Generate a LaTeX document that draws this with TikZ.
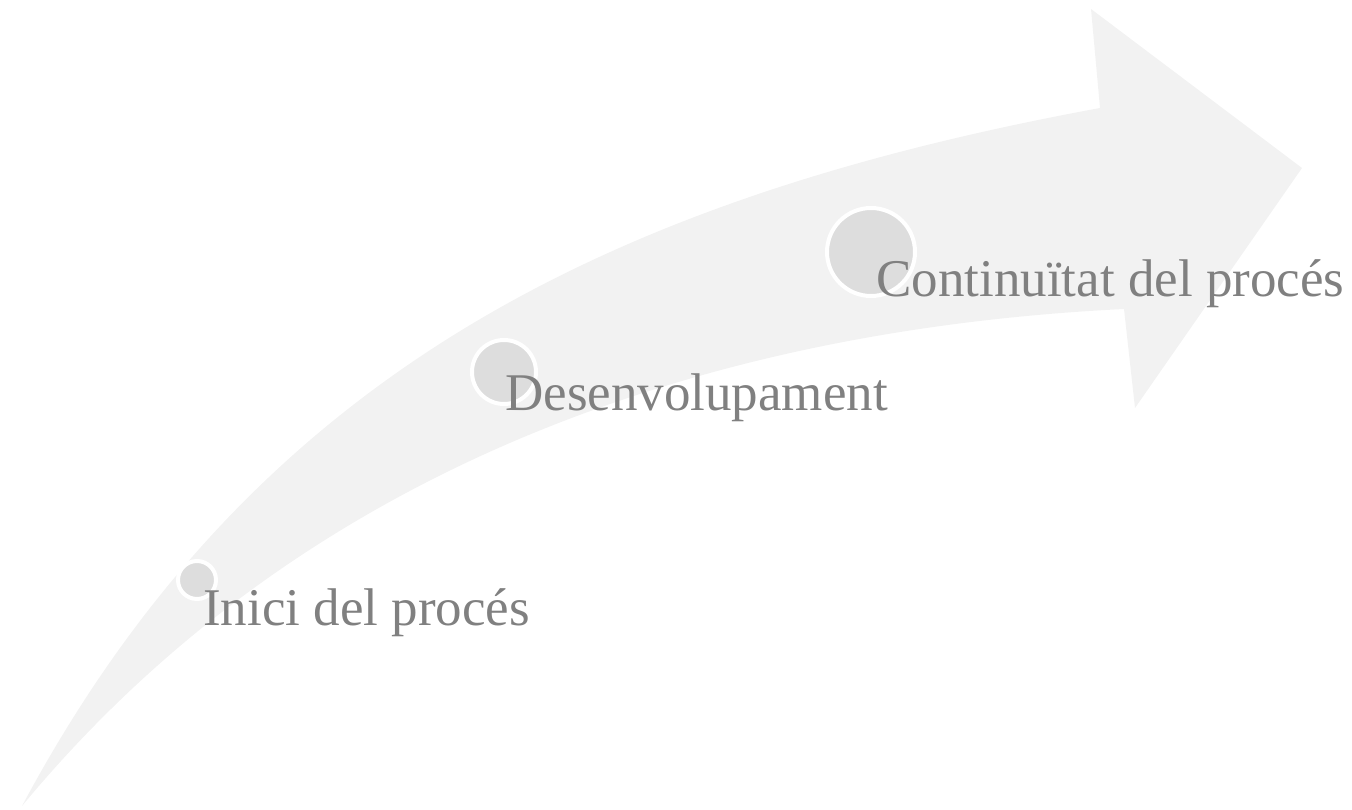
\documentclass[tikz,border=0pt]{standalone}
\usepackage{fontspec}
\setmainfont{Liberation Serif}
\definecolor{arrowgray}{HTML}{F2F2F2}
\definecolor{dotgray}{HTML}{DDDDDD}
\definecolor{labelgray}{HTML}{808080}
\tikzset{
  stagedot/.style={circle, fill=dotgray, draw=white, line width=4pt, inner sep=0pt, minimum size=#1},
  stagelabel/.style={anchor=base west, inner sep=0pt, text=labelgray, font=\fontsize{53}{60}\selectfont}
}
\begin{document}
\begin{tikzpicture}[x=1pt, y=-1pt]
                \useasboundingbox (0,0) rectangle (1352,810);
                % corba de la fletxa
                \fill[arrowgray] (22,806) .. controls (250,380) and (600,200) .. (1100,108)
                    -- (1091,9) -- (1302,168) -- (1135,408) -- (1124,309)
                    .. controls (700,330) and (300,470) .. (22,806) -- cycle;
                \foreach \nm/\cx/\cy/\d/\tx/\ty/\txt in {
                    inici/197/580/38/203/625/{Inici del procés},
                    desenv/504/372/64/505/410/{Desenvolupament},
                    contin/871/252/88/876/297/{Continuïtat del procés}} {
                        \node[stagedot=\d] (\nm dot) at (\cx,\cy) {};
                        \node[stagelabel] (\nm) at (\tx,\ty) {\txt};
                }
            \end{tikzpicture}
\end{document}
